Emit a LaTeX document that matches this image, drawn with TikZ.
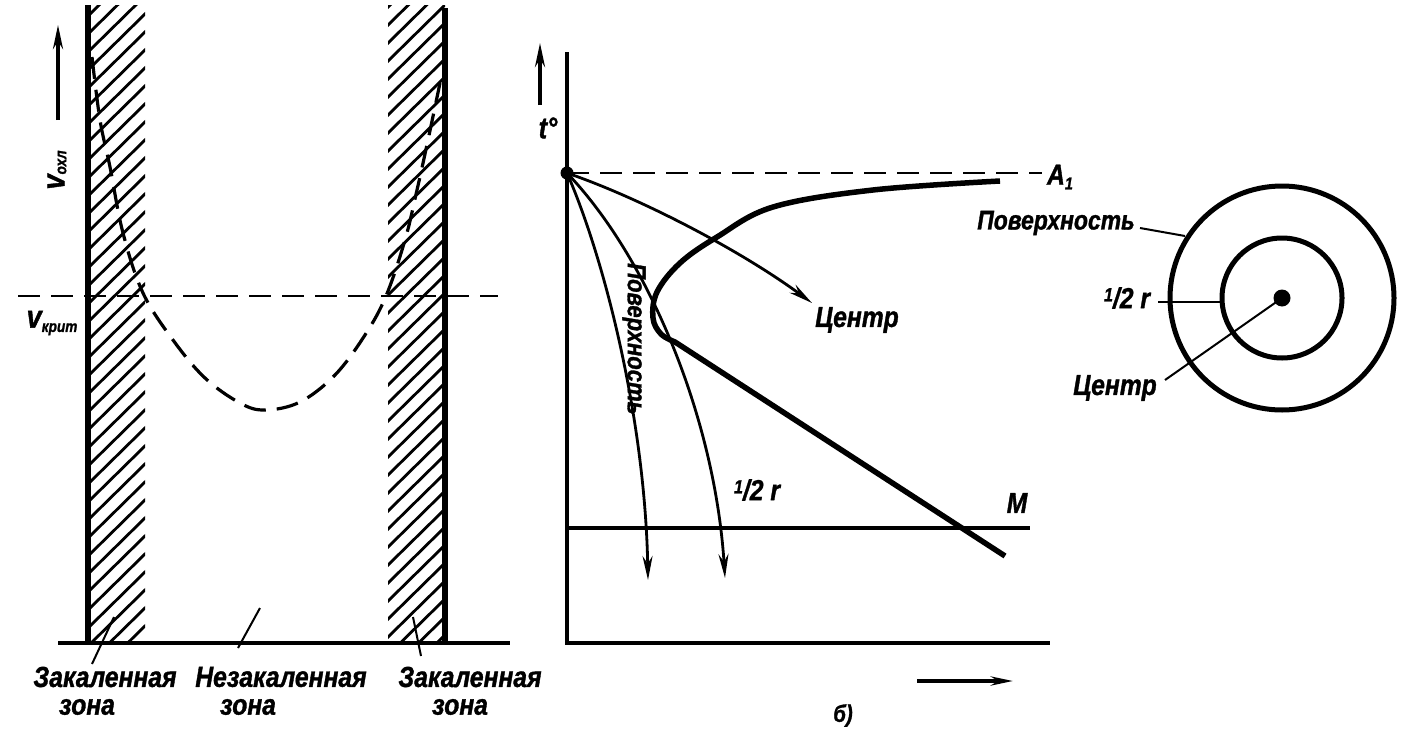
\documentclass[tikz,border=0pt]{standalone}
\usepackage{fontspec}
\setmainfont{Liberation Sans}[FakeStretch=0.85, BoldItalicFeatures={FakeBold=1.2}]
\usetikzlibrary{arrows.meta}
\begin{document}
\begin{tikzpicture}[x=1pt,y=-1pt,
  lbl/.style={font=\fontsize{29}{31}\selectfont\bfseries\itshape, inner sep=0pt},
  axisline/.style={line width=3.6pt},
  edgeline/.style={line width=5.5pt},
  hatchline/.style={line width=2.8pt},
  dashline/.style={line width=2.8pt, dash pattern=on 22pt off 11pt},
  curveline/.style={line width=2.8pt},
  heavy/.style={line width=5.5pt},
  arr/.style={-{Stealth[length=24pt,width=10pt]}},
  leader/.style={line width=2pt}]
\useasboundingbox (0,0) rectangle (1410,728);
\clip (0,0) rectangle (1410,728);

% ---------------- left panel ----------------
\begin{scope}
  \clip (88,5) rectangle (145,643);
  \foreach \y in {0,18,...,720} \draw[hatchline] (86,\y) -- (147,\y-60);
\end{scope}
\begin{scope}
  \clip (388,5) rectangle (445,643);
  \foreach \y in {9,27,...,729} \draw[hatchline] (386,\y) -- (447,\y-60);
\end{scope}
\draw[edgeline] (88,5) -- (88,643);
\draw[edgeline] (445,8) -- (445,643);
\draw[axisline] (58,643) -- (510,643);
\draw[dashline] (18,296) -- (498,296);
\coordinate (vtail) at (58,120);
\coordinate (vhead) at (58,25);
\draw[axisline,arr] (vtail) -- (vhead);
\node[lbl, rotate=90] (vohl) at (57,170) {\fontsize{32}{32}\selectfont v\raisebox{-0.1ex}{\fontsize{16}{16}\selectfont охл}};
\node[lbl] (vkrit) at (52,323) {\fontsize{32}{32}\selectfont v\raisebox{-0.25ex}{\fontsize{16}{16}\selectfont крит}};
\draw[dashline, line width=3.2pt] plot[smooth, tension=0.6] coordinates {(92,57)(100,120)(110,167)(123,233)(143,293)(173,340)(205,378)(240,403)(265,410)(300,402)(335,375)(365,335)(386,296)(405,240)(417,190)(428,140)(440,83)};

\node[lbl] (z1) at (105,677) {Закаленная};
\node[lbl] (z1b) at (87,707) {зона};
\node[lbl] (z2) at (281,677) {Незакаленная};
\node[lbl] (z2b) at (248,707) {зона};
\node[lbl] (z3) at (470,677) {Закаленная};
\node[lbl] (z3b) at (460,707) {зона};
\coordinate (l1a) at (92,664);
\coordinate (l1b) at (114,617);
\coordinate (l2a) at (238,648);
\coordinate (l2b) at (260,608);
\coordinate (l3a) at (421,656);
\coordinate (l3b) at (413,617);
\draw[leader] (l1a) -- (l1b);
\draw[leader] (l2a) -- (l2b);
\draw[leader] (l3a) -- (l3b);

% ---------------- right panel ----------------
\draw[axisline] (567,52) -- (567,643) -- (1050,643);
\coordinate (ttail) at (540,105);
\coordinate (thead) at (540,43);
\draw[axisline,arr] (ttail) -- (thead);
\node[lbl] (tlab) at (548,128) {\fontsize{30}{30}\selectfont t°};
\coordinate (xtail) at (917,681);
\coordinate (xhead) at (1013,681);
\draw[axisline,-{Stealth[length=22pt,width=9pt]}] (xtail) -- (xhead);

\node[fill, circle, inner sep=0pt, minimum size=13pt] (O) at (567,173) {};
\node[lbl] (A1) at (1060,177) {A\raisebox{-0.3ex}{\fontsize{17}{17}\selectfont 1}};
\draw[dashline] (O.center) -- (1042,173);

% thick C curve
\draw[heavy] plot[smooth, tension=0.6] coordinates {(1000,181)(873,190)(773,207)(717,237)(680,263)(657,292)(653,318)(661,334)(675,342)} -- (1005,556);

% M line
\draw[axisline] (567,528) -- (1030,528);
\node[lbl] (M) at (1017,503) {M};

% cooling curves
\coordinate (cenEnd) at (812,303);
\coordinate (surEnd) at (648,580);
\coordinate (halfEnd) at (725,578);
\draw[curveline,arr] (O.center) .. controls (640,198) and (740,250) .. (cenEnd);
\draw[curveline,arr] (O.center) .. controls (605,260) and (645,420) .. (surEnd);
\draw[curveline,arr] (O.center) .. controls (650,260) and (715,420) .. (halfEnd);
\node[lbl] (cenlab) at (857,320) {Центр};
\node[lbl, rotate=-90, font=\fontsize{26}{28}\selectfont\bfseries\itshape] (surlab) at (634,339) {Поверхность};
\node[lbl] (halflab) at (757,490) {\raisebox{0.45ex}{\fontsize{19}{19}\selectfont 1}/2 r};

% circle
\node[draw, circle, line width=5pt, minimum size=224pt, inner sep=0pt] (outer) at (1282,298) {};
\node[draw, circle, line width=5pt, minimum size=120pt, inner sep=0pt] (inner) at (1282,298) {};
\node[fill, circle, inner sep=0pt, minimum size=17pt] (cdot) at (1282,298) {};
\node[lbl, font=\fontsize{27}{29}\selectfont\bfseries\itshape] (psurf) at (1056,223) {Поверхность};
\node[lbl] (phalf) at (1127,298) {\raisebox{0.45ex}{\fontsize{19}{19}\selectfont 1}/2 r};
\node[lbl] (pcen) at (1115,388) {Центр};
\coordinate (ps1) at (1140,228);
\coordinate (ps2) at (1185,236);
\coordinate (ph1) at (1158,302);
\coordinate (ph2) at (1220,302);
\coordinate (pc1) at (1165,380);
\draw[leader] (ps1) -- (ps2);
\draw[leader] (ph1) -- (ph2);
\draw[leader] (pc1) -- (cdot.center);

\node[lbl, anchor=south, font=\fontsize{24}{24}\selectfont\bfseries\itshape] (blab) at (843,727) {б)};
\end{tikzpicture}
\end{document}
